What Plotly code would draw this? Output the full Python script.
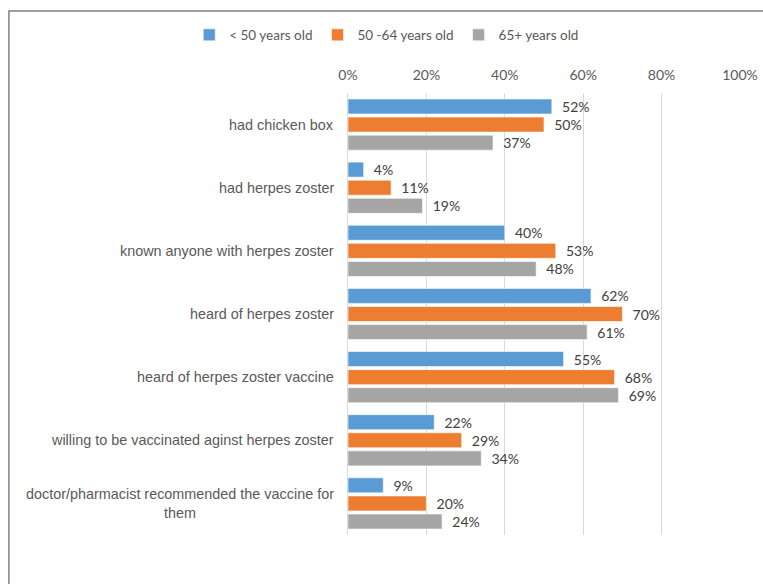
import plotly.graph_objects as go

categories = [
    "had chicken box",
    "had herpes zoster",
    "known anyone with herpes zoster",
    "heard of herpes zoster",
    "heard of herpes zoster vaccine",
    "willing to be vaccinated aginst herpes zoster",
    "doctor/pharmacist recommended the vaccine for<br>them",
]
series_names = ["< 50 years old", "50 -64 years old", "65+ years old"]
under50 = [52, 4, 40, 62, 55, 22, 9]
age50_64 = [50, 11, 53, 70, 68, 29, 20]
age65plus = [37, 19, 48, 61, 69, 34, 24]
colors = ["#5B9BD5", "#ED7D31", "#A5A5A5"]
tick_vals = [0, 0.2, 0.4, 0.6, 0.8, 1.0]
tick_text = ["0%", "20%", "40%", "60%", "80%", "100%"]

fig = go.Figure()
for name, vals, col in zip(series_names, [under50, age50_64, age65plus], colors):
    fig.add_trace(go.Bar(
        y=categories, x=[v / 100 for v in vals], name=name, orientation="h",
        marker=dict(color=col, line=dict(color="white", width=0.6)),
        text=[f"\u00a0\u00a0{v}%" for v in vals], textposition="outside",
        constraintext="none",
        textfont=dict(family="Lato", size=14, color="#404040"),
        cliponaxis=False,
    ))

for c in categories:
    fig.add_annotation(
        x=0, y=c, xref="x", yref="y", text=c, showarrow=False,
        xanchor="right", yanchor="middle", align="center", xshift=-12,
        font=dict(family="Liberation Sans", size=14.4, color="#595959"),
    )

fig.add_shape(type="rect", xref="paper", yref="paper",
              x0=-0.865, x1=1.3, y0=-0.3, y1=1.1855,
              line=dict(color="#808080", width=1.5), layer="below")

fig.update_layout(
    width=763, height=584,
    margin=dict(l=348, r=23, t=93, b=49, autoexpand=False),
    paper_bgcolor="white", plot_bgcolor="white",
    barmode="group", bargap=0.14, bargroupgap=0.17,
    showlegend=True,
    legend=dict(orientation="h", xref="paper", yref="paper",
                x=-0.405, xanchor="left", y=1.131, yanchor="middle",
                font=dict(family="Lato", size=13.5, color="#595959"),
                itemwidth=30, traceorder="normal"),
    xaxis=dict(side="top", range=[0, 1], tickvals=tick_vals, ticktext=tick_text,
               showgrid=True, gridcolor="#D9D9D9", gridwidth=1, zeroline=False,
               showline=False, ticks="", ticklabelstandoff=9, automargin=False,
               tickfont=dict(family="Lato", size=14, color="#595959")),
    yaxis=dict(autorange="reversed", showticklabels=False, showgrid=False, automargin=False,
               zeroline=False, showline=True, linecolor="#D9D9D9", linewidth=1, ticks=""),
)

fig.write_html("out.html")
